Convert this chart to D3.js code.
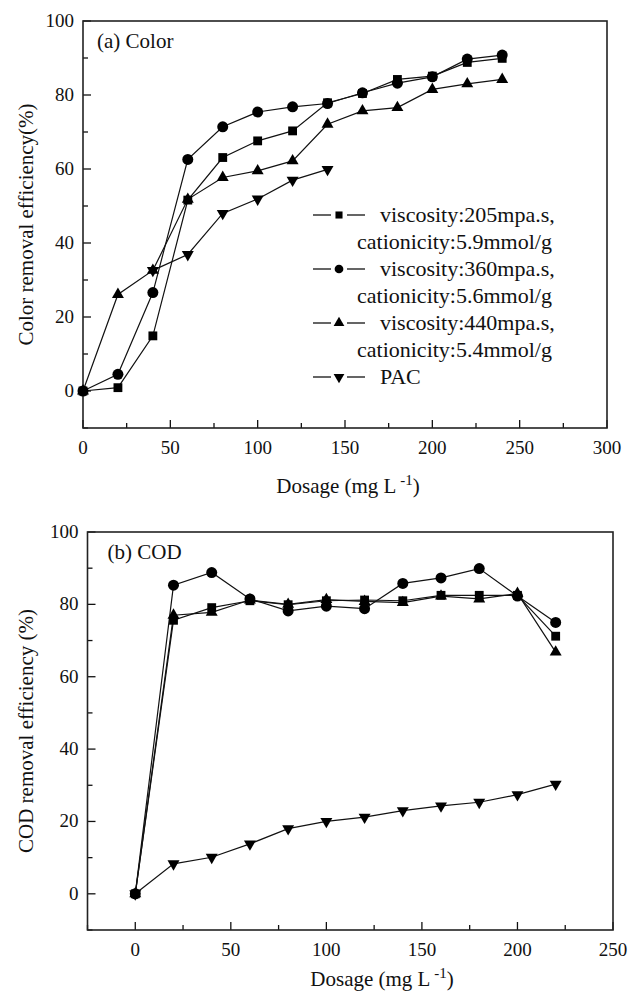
<!DOCTYPE html>
<html>
<head>
<meta charset="utf-8">
<script src="https://cdn.jsdelivr.net/npm/d3@7"></script>
<style>
  body { margin: 0; background: #fff; }
  svg text { font-family: "Liberation Serif", "Times New Roman", serif; fill: #111; }
</style>
</head>
<body>
<div id="chart"></div>
<script>
// ---- data ----
var seriesNames = ["205", "360", "440", "PAC"];
var legendLines = [
  ["viscosity:205mpa.s,", "cationicity:5.9mmol/g"],
  ["viscosity:360mpa.s,", "cationicity:5.6mmol/g"],
  ["viscosity:440mpa.s,", "cationicity:5.4mmol/g"],
  ["PAC"]
];

// (a) Color
var dosageA    = [0, 20, 40, 60, 80, 100, 120, 140, 160, 180, 200, 220, 240];
var colorSq    = [0, 0.9, 14.9, 51.6, 63.1, 67.6, 70.3, 77.9, 80.4, 84.2, 85.1, 88.8, 89.9];
var colorCi    = [0, 4.5, 26.6, 62.6, 71.4, 75.4, 76.8, 77.7, 80.6, 83.2, 84.9, 89.7, 90.8];
var colorTr    = [0, 26.1, 32.6, 51.8, 57.7, 59.5, 62.2, 72.1, 75.7, 76.6, 81.5, 83.0, 84.2];
var dosagePacA = [40, 60, 80, 100, 120, 140];
var colorPac   = [32.6, 36.9, 48.0, 51.9, 57.0, 59.9];

// (b) COD
var dosageB = [0, 20, 40, 60, 80, 100, 120, 140, 160, 180, 200, 220];
var codSq   = [0, 75.6, 79.1, 81.0, 79.9, 81.0, 81.2, 81.0, 82.5, 82.5, 82.5, 71.2];
var codCi   = [0, 85.3, 88.8, 81.5, 78.2, 79.5, 78.8, 85.8, 87.3, 89.9, 82.3, 75.0];
var codTr   = [0, 77.0, 77.8, 81.2, 80.0, 81.3, 80.8, 80.5, 82.3, 81.5, 83.0, 66.8];
var codPac  = [0, 8.3, 10.1, 13.8, 18.0, 20.0, 21.2, 23.0, 24.3, 25.3, 27.4, 30.3];

var xTicksA = [0, 50, 100, 150, 200, 250, 300];
var xTicksB = [0, 50, 100, 150, 200, 250];
var yTicks  = [0, 20, 40, 60, 80, 100];

var W = 629, H = 996;
var svg = d3.select("#chart").append("svg")
    .attr("width", W)
    .attr("height", H)
    .attr("font-family", "Liberation Serif, Times New Roman, serif");

var symbols = {
  "205": d3.symbol().type(d3.symbolSquare).size(78),
  "360": d3.symbol().type(d3.symbolCircle).size(95),
  "440": d3.symbol().type(d3.symbolTriangle).size(62),
  "PAC": d3.symbol().type(d3.symbolTriangle).size(62)
};
function marker(g, key, cx, cy) {
  g.append("path")
    .attr("d", symbols[key]())
    .attr("transform", "translate(" + cx + "," + cy + ")" + (key == "PAC" ? " rotate(180)" : ""))
    .style("fill", "#000");
}

function drawPanel(p) {
  var g = svg.append("g");
  var x = d3.scaleLinear().domain(p.xDomain).range([p.left, p.right]);
  var y = d3.scaleLinear().domain([-10, 100]).range([p.bottom, p.top]);

  // minor ticks (inward)
  var xMinor = d3.range(p.xDomain[0], p.xDomain[1] + 1, 25);
  g.selectAll(".xminor").data(xMinor).enter().append("line")
    .attr("x1", function(d) { return x(d); }).attr("x2", function(d) { return x(d); })
    .attr("y1", p.bottom).attr("y2", function(d) { return p.bottom - (d % 50 == 0 ? 8 : 5); })
    .style("stroke", "#111").style("stroke-width", 1.3);
  var yMinor = d3.range(-10, 101, 10);
  g.selectAll(".yminor").data(yMinor).enter().append("line")
    .attr("y1", function(d) { return y(d); }).attr("y2", function(d) { return y(d); })
    .attr("x1", p.left).attr("x2", function(d) { return p.left + (d % 20 == 0 ? 8 : 5); })
    .style("stroke", "#111").style("stroke-width", 1.3);

  // tick labels
  g.selectAll(".xlab").data(p.xTicks).enter().append("text")
    .attr("x", function(d) { return x(d); })
    .attr("y", p.bottom + 26)
    .attr("text-anchor", "middle")
    .style("font-size", "19px")
    .text(function(d) { return d; });
  g.selectAll(".ylab").data(yTicks).enter().append("text")
    .attr("x", p.left - 9)
    .attr("y", function(d) { return y(d) + 6; })
    .attr("text-anchor", "end")
    .style("font-size", "19px")
    .text(function(d) { return d; });

  // frame
  g.append("rect")
    .attr("x", p.left).attr("y", p.top)
    .attr("width", p.right - p.left).attr("height", p.bottom - p.top)
    .style("fill", "none").style("stroke", "#222").style("stroke-width", 1.6);

  // series
  var line = d3.line()
    .x(function(d) { return x(d[0]); })
    .y(function(d) { return y(d[1]); });
  p.series.forEach(function(s) {
    var pts = d3.zip(s.xs, s.ys);
    g.append("path").datum(pts)
      .attr("d", line)
      .style("fill", "none").style("stroke", "#111").style("stroke-width", 1.2);
  });
  p.series.forEach(function(s) {
    d3.zip(s.xs, s.ys).forEach(function(d) { marker(g, s.key, x(d[0]), y(d[1])); });
  });

  // panel label
  g.append("text")
    .attr("x", p.left + p.labelDx).attr("y", p.top + 27)
    .style("font-size", "21px")
    .text(p.label);

  // axis titles
  g.append("text")
    .attr("transform", "translate(" + 33 + "," + ((p.top + p.bottom) / 2) + ") rotate(-90)")
    .attr("text-anchor", "middle")
    .style("font-size", "21px")
    .text(p.yTitle);
  var xt = g.append("text")
    .attr("x", p.xTitleX).attr("y", p.bottom + p.xTitleDy)
    .attr("text-anchor", "middle")
    .style("font-size", "21px");
  xt.append("tspan").text("Dosage (mg L");
  xt.append("tspan").attr("dy", -8).style("font-size", "15px").text(" -1");
  xt.append("tspan").attr("dy", 8).text(")");
  return { x: x, y: y, g: g };
}

var panelA = drawPanel({
  left: 83, right: 607, top: 21, bottom: 428,
  xDomain: [0, 300], xTicks: xTicksA,
  label: "(a) Color", labelDx: 14,
  yTitle: "Color removal efficiency(%)",
  xTitleX: 348, xTitleDy: 65,
  series: [
    { key: "205", xs: dosageA, ys: colorSq },
    { key: "360", xs: dosageA, ys: colorCi },
    { key: "440", xs: dosageA, ys: colorTr },
    { key: "PAC", xs: dosagePacA, ys: colorPac }
  ]
});

drawPanel({
  left: 87.5, right: 613, top: 532, bottom: 930,
  xDomain: [-25, 250], xTicks: xTicksB,
  label: "(b) COD", labelDx: 20,
  yTitle: "COD removal efficiency (%)",
  xTitleX: 382, xTitleDy: 56,
  series: [
    { key: "205", xs: dosageB, ys: codSq },
    { key: "360", xs: dosageB, ys: codCi },
    { key: "440", xs: dosageB, ys: codTr },
    { key: "PAC", xs: dosageB, ys: codPac }
  ]
});

// legend in panel (a)
var leg = panelA.g.append("g");
var rowY = 215, rowStep = 27;
legendLines.forEach(function(lines, i) {
  var cy = rowY;
  leg.append("line").attr("x1", 313).attr("x2", 331).attr("y1", cy).attr("y2", cy)
    .style("stroke", "#111").style("stroke-width", 1.3);
  leg.append("line").attr("x1", 347).attr("x2", 365).attr("y1", cy).attr("y2", cy)
    .style("stroke", "#111").style("stroke-width", 1.3);
  leg.append("path")
    .attr("d", d3.symbol().type(i == 1 ? d3.symbolCircle : (i == 0 ? d3.symbolSquare : d3.symbolTriangle)).size(i == 1 ? 60 : 50)())
    .attr("transform", "translate(339," + cy + ")" + (i == 3 ? " rotate(180)" : ""))
    .style("fill", "#000");
  lines.forEach(function(t, j) {
    leg.append("text")
      .attr("x", j == 0 ? 380 : 357)
      .attr("y", rowY + 7)
      .style("font-size", "22px")
      .text(t);
    rowY += rowStep;
  });
});
</script>
</body>
</html>
